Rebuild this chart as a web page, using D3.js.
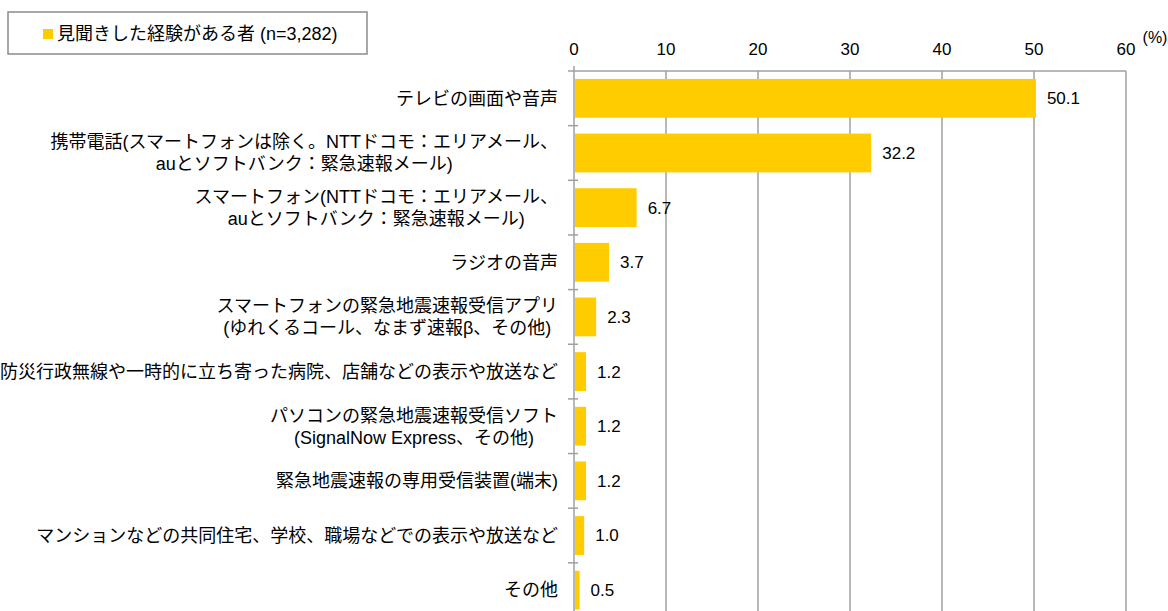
<!DOCTYPE html>
<html><head><meta charset="utf-8">
<script src="https://cdn.jsdelivr.net/npm/d3@7"></script>
<style>
body{margin:0;background:#fff;}
text{font-family:"Liberation Sans","Noto Sans CJK JP",sans-serif;fill:#000;}
</style></head>
<body>
<svg id="c" width="1168" height="611"></svg>
<script>
const categories = [
  ["テレビの画面や音声"],
  ["携帯電話(スマートフォンは除く。NTTドコモ：エリアメール、","auとソフトバンク：緊急速報メール)"],
  ["スマートフォン(NTTドコモ：エリアメール、","auとソフトバンク：緊急速報メール)"],
  ["ラジオの音声"],
  ["スマートフォンの緊急地震速報受信アプリ","(ゆれくるコール、なまず速報β、その他)"],
  ["防災行政無線や一時的に立ち寄った病院、店舗などの表示や放送など"],
  ["パソコンの緊急地震速報受信ソフト","(SignalNow Express、その他)"],
  ["緊急地震速報の専用受信装置(端末)"],
  ["マンションなどの共同住宅、学校、職場などでの表示や放送など"],
  ["その他"]
];
const values = [50.1, 32.2, 6.7, 3.7, 2.3, 1.2, 1.2, 1.2, 1.0, 0.5];
const xTicks = [0, 10, 20, 30, 40, 50, 60];
const seriesName = "見聞きした経験がある者 (n=3,282)";
const unitLabel = "(%)";

(function(){
const svg = d3.select("#c");
const L = 574, R = 1126, T = 71, step = 54.65;
const x = d3.scaleLinear().domain([0, 60]).range([L, R]);
const y = d3.scaleBand().domain(d3.range(categories.length))
  .range([T, T + step * categories.length]).paddingInner(0.29).paddingOuter(0.145);
const gridColor = "#a0a0a0";

svg.append("g").selectAll("line").data(xTicks.slice(1)).join("line")
  .attr("x1", d => x(d)).attr("x2", d => x(d))
  .attr("y1", T).attr("y2", 611)
  .attr("stroke", gridColor).attr("stroke-width", 1.5);

svg.append("g").selectAll("rect").data(values).join("rect")
  .attr("x", x(0) + 1).attr("y", (d, i) => y(i))
  .attr("width", d => x(d) - x(0)).attr("height", y.bandwidth())
  .attr("fill", "#ffcc00");

svg.append("line").attr("x1", L - 6).attr("x2", R).attr("y1", T).attr("y2", T)
  .attr("stroke", gridColor).attr("stroke-width", 1.5);
svg.append("line").attr("x1", L).attr("x2", L).attr("y1", T - 5).attr("y2", 611)
  .attr("stroke", gridColor).attr("stroke-width", 1.5);
svg.append("g").selectAll("line").data(d3.range(1, categories.length + 1)).join("line")
  .attr("x1", L - 6).attr("x2", L + 4)
  .attr("y1", i => T + i * step).attr("y2", i => T + i * step)
  .attr("stroke", gridColor).attr("stroke-width", 1.5);

svg.append("g").selectAll("text").data(xTicks).join("text")
  .attr("x", d => x(d)).attr("y", 55).attr("text-anchor", "middle")
  .style("font-size", "17px").text(d => d);
svg.append("text").attr("x", 1155).attr("y", 43).attr("text-anchor", "middle")
  .style("font-size", "16px").text(unitLabel);

// category labels: lines centred on each other, block right-aligned
const RIGHT = 558, lh = 22;
categories.forEach((lines, i) => {
  const g = svg.append("text").attr("text-anchor", "middle").style("font-size", "18px");
  const spans = lines.map((l, k) => g.append("tspan").text(l));
  const widths = spans.map(s => s.node().getComputedTextLength());
  const cx = RIGHT - d3.max(widths) / 2;
  const cy = y(i) + y.bandwidth() / 2;
  const off = -(lines.length - 1) * lh / 2;
  spans.forEach((s, k) => s.attr("x", cx).attr("y", cy + off + k * lh).attr("dy", "0.35em"));
});

svg.append("g").selectAll("text").data(values).join("text")
  .attr("x", d => x(d) + 12).attr("y", (d, i) => y(i) + y.bandwidth() / 2)
  .attr("dy", "0.35em").style("font-size", "17px").text(d => d.toFixed(1));

svg.append("rect").attr("x", 8).attr("y", 12).attr("width", 359).attr("height", 42)
  .attr("fill", "#fff").attr("stroke", "#8c8c8c").attr("stroke-width", 1.5);
svg.append("rect").attr("x", 43).attr("y", 29).attr("width", 10).attr("height", 10).attr("fill", "#ffcc00");
svg.append("text").attr("x", 57).attr("y", 34).attr("dy", "0.35em")
  .style("font-size", "18px").text(seriesName);
})();
</script>
</body></html>
